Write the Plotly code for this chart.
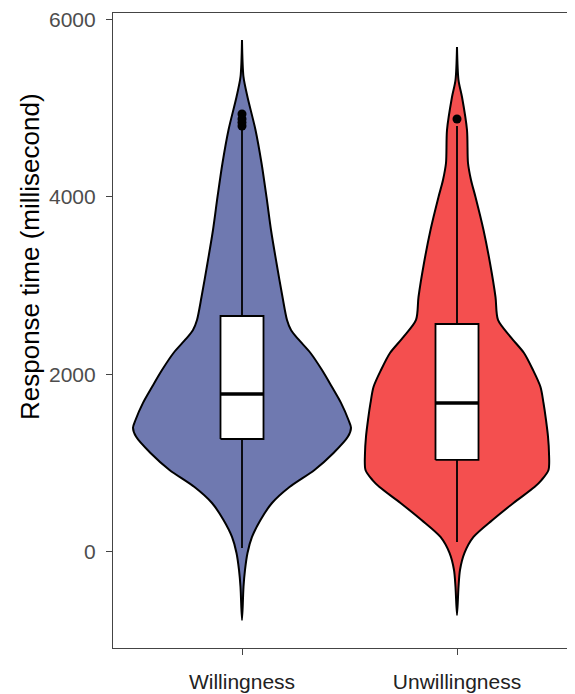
import plotly.graph_objects as go

categories = ["Willingness", "Unwillingness"]
fill_colors = ["#6F79B0", "#F44F4F"]

# Violin outlines: response time level (ms) and half-width (px at 215 px per category)
will_levels = [-766, -394, -203, -11, 169, 360, 552, 732, 924, 1115, 1300, 1400, 1487, 1680, 1859, 2050, 2242, 2400, 2501, 2614, 2873, 3256, 3628, 4000, 4383, 4755, 5127, 5352, 5769]
will_halfw = [0, 1.5, 3, 5.5, 10, 18.5, 30, 47.5, 72.5, 91.5, 106, 109, 106.5, 99, 90, 80, 68.5, 56, 49, 45, 40.5, 34.5, 29, 24.5, 19.5, 13.5, 5.5, 1.5, 0]

unw_levels = [-710, -394, -203, -11, 169, 360, 552, 732, 810, 924, 1115, 1300, 1487, 1679, 1859, 2050, 2242, 2423, 2614, 2873, 3256, 3628, 4000, 4192, 4383, 4755, 5127, 5318, 5690]
unw_halfw = [0, 1.5, 3, 7.5, 16.5, 35.5, 56.5, 77.5, 84.5, 91.5, 92, 91, 89, 86.5, 83.5, 76, 67, 53.5, 41, 38.5, 33, 26.5, 18.5, 14, 11, 10, 5, 1.5, 0]

# Box statistics
q1 = [1273, 1037]
median = [1780, 1679]
q3 = [2659, 2569]
lower_fence = [45, 113]
upper_fence = [4760, 4800]
outliers = [[4800, 4840, 4880, 4935], [4879]]

PX_PER_CAT = 215.0
BOX_WIDTH = 0.2

fig = go.Figure()

profiles = [(will_levels, will_halfw), (unw_levels, unw_halfw)]
for i, (lv, hw) in enumerate(profiles):
    c = i + 1
    xs = [c + h / PX_PER_CAT for h in hw] + [c - h / PX_PER_CAT for h in reversed(hw)]
    ys = list(lv) + list(reversed(lv))
    fig.add_trace(go.Scatter(
        x=xs, y=ys, mode="lines", fill="toself", fillcolor=fill_colors[i],
        line=dict(color="black", width=2, shape="spline", smoothing=0.8),
        hoverinfo="skip", showlegend=False))

for i in range(2):
    c = i + 1
    lo, hi = c - BOX_WIDTH / 2, c + BOX_WIDTH / 2
    # whiskers
    fig.add_trace(go.Scatter(x=[c, c], y=[lower_fence[i], q1[i]], mode="lines",
                             line=dict(color="black", width=1.8), showlegend=False, hoverinfo="skip"))
    fig.add_trace(go.Scatter(x=[c, c], y=[q3[i], upper_fence[i]], mode="lines",
                             line=dict(color="black", width=1.8), showlegend=False, hoverinfo="skip"))
    # box
    fig.add_trace(go.Scatter(
        x=[lo, hi, hi, lo, lo], y=[q1[i], q1[i], q3[i], q3[i], q1[i]],
        mode="lines", fill="toself", fillcolor="white",
        line=dict(color="black", width=1.8), showlegend=False, hoverinfo="skip"))
    # median
    fig.add_trace(go.Scatter(
        x=[lo, hi], y=[median[i], median[i]],
        mode="lines", line=dict(color="black", width=3.5), showlegend=False, hoverinfo="skip"))
    # outliers
    fig.add_trace(go.Scatter(
        x=[c] * len(outliers[i]), y=outliers[i], mode="markers",
        marker=dict(color="black", size=9), showlegend=False))

# The page body adds an 8 px margin, so the figure is sized and offset to compensate
fig.update_layout(
    width=567, height=686,
    margin=dict(l=105, r=0, t=5, b=46),
    paper_bgcolor="white", plot_bgcolor="white",
    font=dict(family="Liberation Sans, Arial, sans-serif"),
    annotations=[dict(
        text="Response time (millisecond)", textangle=-90,
        xref="paper", yref="paper", x=(30 - 113) / 462, y=(648 - 257) / 635,
        xanchor="center", yanchor="middle", showarrow=False,
        font=dict(size=26, color="black"))],
)
fig.update_xaxes(
    range=[0.4, 0.4 + 462 / PX_PER_CAT], tickvals=[1, 2], ticktext=categories,
    showline=True, linecolor="#444444", linewidth=1.2, mirror=True,
    ticks="outside", ticklen=6, tickcolor="#444444", tickwidth=1.2,
    tickfont=dict(size=21, color="#222222"), showgrid=False, zeroline=False,
    ticklabelstandoff=9, automargin=False, ticklabeloverflow="allow")
fig.update_yaxes(
    range=[-1082, 6073], tickvals=[0, 2000, 4000, 6000],
    showline=True, linecolor="#444444", linewidth=1.2, mirror=False,
    ticks="outside", ticklen=6, tickcolor="#444444", tickwidth=1.2,
    tickfont=dict(size=21, color="#4D4D4D"), showgrid=False, zeroline=False,
    ticklabelstandoff=6, automargin=False, ticklabeloverflow="allow")

fig.write_html("out.html")
